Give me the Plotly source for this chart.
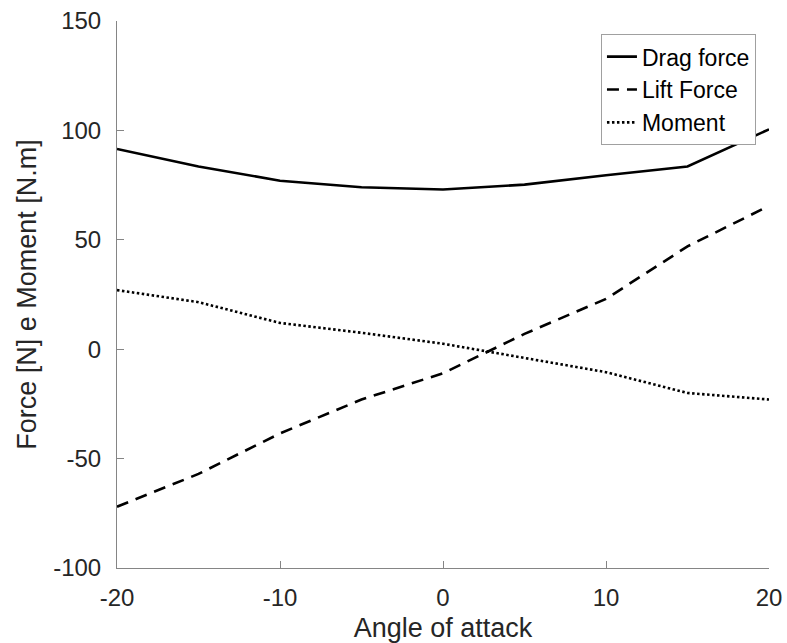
import plotly.graph_objects as go

angle = [-20, -15, -10, -5, 0, 5, 10, 15, 20]
drag_force = [91.5, 83.5, 77, 74, 73, 75.2, 79.5, 83.5, 100.5]
lift_force = [-72, -57, -38.5, -23, -11, 7, 23, 47, 65.5]
moment = [27, 21.5, 12, 7.5, 2.5, -4, -10.5, -20, -23]

x_ticks = [-20, -10, 0, 10, 20]
x_tick_labels = ["-20", "-10", "0", "10", "20"]
y_ticks = [-100, -50, 0, 50, 100, 150]
y_tick_labels = ["-100", "-50", "0", "50", "100", "150"]

font_family = "Liberation Sans, Arial, Helvetica, sans-serif"
text_color = "#262626"
axis_color = "#858585"

fig = go.Figure()
fig.add_trace(go.Scatter(x=angle, y=drag_force, mode="lines", name="Drag force",
                         line=dict(color="black", width=2.6)))
fig.add_trace(go.Scatter(x=angle, y=lift_force, mode="lines", name="Lift Force",
                         line=dict(color="black", width=2.6, dash="12px,8px")))
fig.add_trace(go.Scatter(x=angle, y=moment, mode="lines", name="Moment",
                         line=dict(color="black", width=2.6, dash="2.5px,2.5px")))

fig.update_layout(
    template="none",
    width=787, height=643,
    margin=dict(l=117, r=18, t=21, b=75),
    paper_bgcolor="white", plot_bgcolor="white",
    font=dict(family=font_family, color=text_color),
    showlegend=True,
    legend=dict(x=0.980, y=0.976, xanchor="right", yanchor="top",
                bordercolor="#a0a0a0", borderwidth=1, bgcolor="white",
                font=dict(size=23, color="black", family=font_family),
                itemwidth=30, tracegroupgap=0),
    xaxis=dict(range=[-20, 20], tickvals=x_ticks, ticktext=x_tick_labels,
               ticks="inside", ticklen=7, tickcolor=axis_color, tickwidth=1,
               showline=True, linecolor=axis_color, linewidth=1,
               showgrid=False, zeroline=False, mirror=False, automargin=False,
               ticklabelstandoff=8, ticklabeloverflow="allow",
               tickfont=dict(size=24, color=text_color),
               title=dict(text="Angle of attack", font=dict(size=27, color=text_color), standoff=9)),
    yaxis=dict(range=[-100, 150], tickvals=y_ticks, ticktext=y_tick_labels,
               ticks="inside", ticklen=7, tickcolor=axis_color, tickwidth=1,
               showline=True, linecolor=axis_color, linewidth=1,
               showgrid=False, zeroline=False, mirror=False, automargin=False,
               ticklabelstandoff=10, ticklabeloverflow="allow",
               tickfont=dict(size=24, color=text_color),
               title=dict(text="Force [N] e Moment [N.m]", font=dict(size=27, color=text_color), standoff=8)),
)

# remove the default 8px page margin so the 787x643 figure fills the window exactly
fig.write_html("out.html",
               config={"displayModeBar": False},
               post_script="document.body.style.margin='0';document.body.style.overflow='hidden';")
